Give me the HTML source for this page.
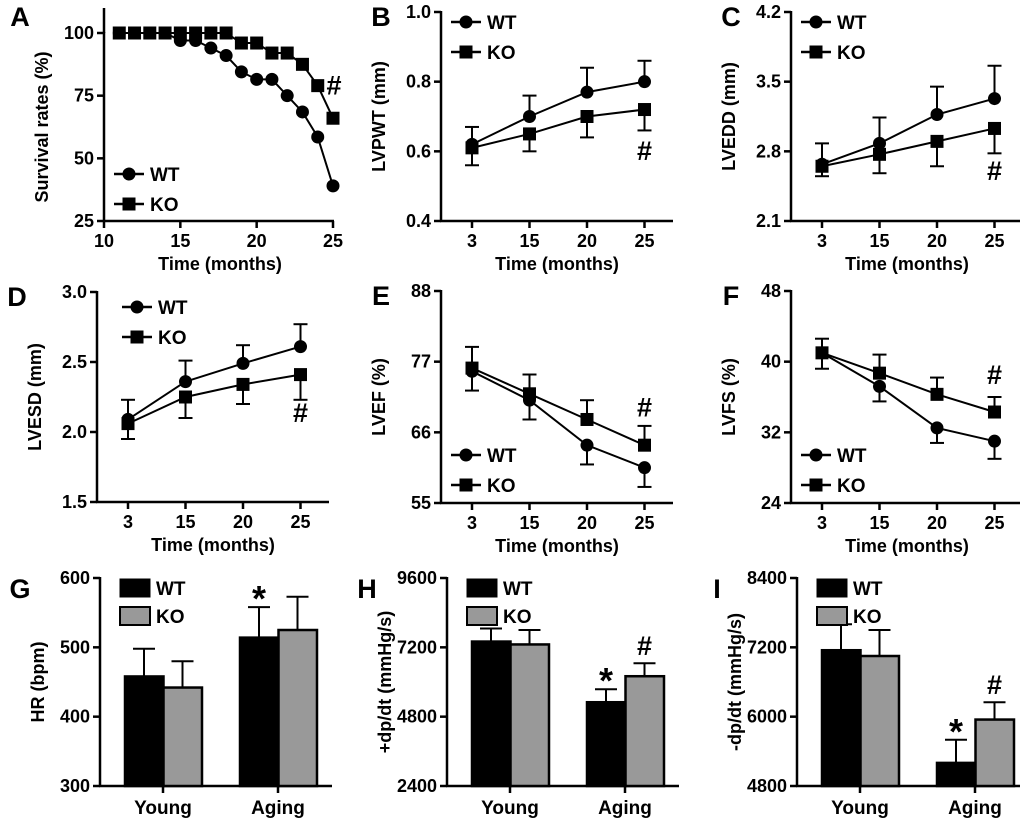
<!DOCTYPE html>
<html><head><meta charset="utf-8"><style>
body{margin:0;background:#fff}
svg{display:block;font-family:"Liberation Sans",Arial,sans-serif;font-weight:bold}
</style></head><body>
<svg id="fig" width="1020" height="821" viewBox="0 0 1020 821"></svg>
<script>
// ---- data ----
const survMonths=[11,12,13,14,15,16,17,18,19,20,21,22,23,24,25];
const survWT=[100,100,100,100,97,97,94,91,84.5,81.5,81.5,75,68.5,58.5,39];
const survKO=[100,100,100,100,100,100,100,100,96,96,92,92,87.5,79,66];
const timeCats=["3","15","20","25"];
const lvpwtWT=[0.62,0.70,0.77,0.80], lvpwtWTerr=[0.05,0.06,0.07,0.06];
const lvpwtKO=[0.61,0.65,0.70,0.72], lvpwtKOerr=[0.05,0.05,0.06,0.06];
const lveddWT=[2.67,2.88,3.17,3.33], lveddWTerr=[0.21,0.26,0.28,0.33];
const lveddKO=[2.65,2.77,2.90,3.03], lveddKOerr=[0.10,0.19,0.25,0.25];
const lvesdWT=[2.09,2.36,2.49,2.61], lvesdWTerr=[0.14,0.15,0.13,0.16];
const lvesdKO=[2.06,2.25,2.34,2.41], lvesdKOerr=[0.11,0.15,0.14,0.18];
const lvefWT=[75.5,71,64,60.5], lvefWTerr=[3,3,3,3];
const lvefKO=[76,72,68,64], lvefKOerr=[3.3,3,3,3];
const lvfsWT=[41,37.2,32.5,31], lvfsWTerr=[1.8,1.7,1.7,2];
const lvfsKO=[41,38.7,36.3,34.3], lvfsKOerr=[1.6,2.1,1.9,1.7];
const groupCats=["Young","Aging"];
const hrWT=[458,514], hrWTerr=[40,44], hrKO=[442,525], hrKOerr=[38,48];
const dpWT=[7400,5300], dpWTerr=[450,450], dpKO=[7300,6200], dpKOerr=[500,450];
const dnWT=[7150,5200], dnWTerr=[450,400], dnKO=[7050,5950], dnKOerr=[450,300];

const svg=document.getElementById('fig');
const NS="http://www.w3.org/2000/svg";
function el(tag,attrs,name,parent){const e=document.createElementNS(NS,tag);for(const k in attrs)e.setAttribute(k,attrs[k]);


(parent||svg).appendChild(e);return e;}
function txt(x,y,s,size,anchor,name,rot){const t=el('text',{x:x,y:y,'font-size':size,'text-anchor':anchor||'middle'},name);t.textContent=s;if(rot)t.setAttribute('transform','rotate(-90 '+x+' '+y+')');return t;}
function line(x1,y1,x2,y2,name,w){return el('line',{x1:x1,y1:y1,x2:x2,y2:y2,stroke:'#000','stroke-width':w||2.5},name);}
function marker(x,y,sq,name){if(sq)el('rect',{x:x-6.5,y:y-6.5,width:13,height:13,fill:'#000'},name);else el('circle',{cx:x,cy:y,r:6.5,fill:'#000'},name);}

function yAxis(ax,top,bot,ymin,ymax,ticks,title,fmt){
  const sy=v=>bot-(v-ymin)/(ymax-ymin)*(bot-top);
  line(ax,top-1,ax,bot+1,'y-axis-line');
  ticks.forEach(v=>{line(ax-7,sy(v),ax,sy(v),'y-tick');txt(ax-10,sy(v)+6,fmt(v),18,'end','y-tick-label');});
  txt(ax-56,(top+bot)/2,title,18,'middle','y-axis-title',true);
  return sy;
}
function legend(x,y,bars){
  if(bars){el('rect',{x:x,y:y,width:30,height:18,fill:'#000',stroke:'#000'},'legend-wt-swatch');
    el('rect',{x:x,y:y+28,width:30,height:18,fill:'#999',stroke:'#000','stroke-width':2},'legend-ko-swatch');
    txt(x+36,y+16,'WT',19,'start','legend-wt-label');txt(x+36,y+44,'KO',19,'start','legend-ko-label');return;}
  line(x,y,x+30,y,'legend-wt-line');marker(x+15,y,false,'legend-wt-marker');txt(x+36,y+7,'WT',19,'start','legend-wt-label');
  line(x,y+30,x+30,y+30,'legend-ko-line');marker(x+15,y+30,true,'legend-ko-marker');txt(x+36,y+37,'KO',19,'start','legend-ko-label');
}
function linePanel(p){
  const sy=yAxis(p.ax,p.top,p.bot,p.ymin,p.ymax,p.ticks,p.title,p.fmt);
  line(p.ax-1,p.bot,p.ax+232,p.bot,'x-axis-line');
  const sx=i=>p.ax+31+i*57.5;
  timeCats.forEach((c,i)=>{line(sx(i),p.bot,sx(i),p.bot+7,'x-tick');txt(sx(i),p.bot+26,c,18,'middle','x-tick-label');});
  txt(p.ax+116,p.bot+49,'Time (months)',18,'middle','x-axis-title');
  [[p.wt,p.wte,p.wtDir,false,'wt'],[p.ko,p.koe,p.koDir,true,'ko']].forEach(([vals,errs,dir,sq,n])=>{
    vals.forEach((v,i)=>{const e=sy(v+dir*errs[i]);line(sx(i),sy(v),sx(i),e,'error-bar-'+n,2);line(sx(i)-7,e,sx(i)+7,e,'error-cap-'+n,2);});
    el('polyline',{points:vals.map((v,i)=>sx(i)+','+sy(v)).join(' '),fill:'none',stroke:'#000','stroke-width':2},'series-line-'+n);
    vals.forEach((v,i)=>marker(sx(i),sy(v),sq,'point-'+n));
  });
  txt(sx(3),sy(p.hashY),'#',27,'middle','significance-mark');
  legend(p.ax+p.lx,p.ly,false);
  txt(p.ax-60-(p.lettOff||0),p.top+14,p.letter,27,'middle','panel-label-'+p.letter);
}
function barPanel(p){
  const sy=yAxis(p.ax,p.top,p.bot,p.ymin,p.ymax,p.ticks,p.title,p.fmt);
  line(p.ax-1,p.bot,p.ax+232,p.bot,'x-axis-line');
  [[p.wt,p.wte,'#000',0,'wt'],[p.ko,p.koe,'#999',1,'ko']].forEach(([vals,errs,col,k,n])=>{
    vals.forEach((v,i)=>{const x=p.ax+25+i*115+k*38.5;
      const e=sy(v+errs[i]);line(x+19,sy(v),x+19,e,'error-bar-'+n,2);line(x+8,e,x+30,e,'error-cap-'+n,2);
      el('rect',{x:x,y:sy(v),width:38.5,height:p.bot-sy(v),fill:col,stroke:'#000','stroke-width':2.5},'bar-'+n+'-'+groupCats[i].toLowerCase());});
  });
  groupCats.forEach((c,i)=>{const x=p.ax+63+i*115;line(x,p.bot,x,p.bot+7,'x-tick');txt(x,p.bot+28,c,19,'middle','x-tick-label');});
  p.marks.forEach(m=>{const i=m[1],k=m[2];const x=p.ax+25+i*115+k*38.5+19;const vals=k?p.ko:p.wt,errs=k?p.koe:p.wte;
    txt(x,sy(vals[i]+errs[i])-8+(m[0]=='*'?12:0),m[0],m[0]=='*'?36:27,'middle','significance-mark');});
  legend(p.ax+20,p.top+1,true);
  txt(p.ax-80,p.top+20,p.letter,27,'middle','panel-label-'+p.letter);
}
// Panel A
(function(){
  const ax=104,top=33,bot=221,sy=yAxis(ax,top,bot,25,100,[25,50,75,100],'Survival rates (%)',v=>v);
  line(ax,8,ax,top,'y-axis-line');
  const sx=m=>ax+(m-10)/15*229;
  line(ax-1,bot,sx(25)+1,bot,'x-axis-line');
  [10,15,20,25].forEach(m=>{line(sx(m),bot,sx(m),bot+7,'x-tick');txt(sx(m),bot+26,m,18,'middle','x-tick-label');});
  txt(ax+116,bot+49,'Time (months)',18,'middle','x-axis-title');
  [[survKO,true,'ko'],[survWT,false,'wt']].forEach(([vals,sq,n])=>{
    el('polyline',{points:vals.map((v,i)=>sx(survMonths[i])+','+sy(v)).join(' '),fill:'none',stroke:'#000','stroke-width':2},'series-line-'+n);
    vals.forEach((v,i)=>marker(sx(survMonths[i]),sy(v),sq,'point-'+n));});
  txt(sx(25)+1,sy(survKO[13])+9,'#',27,'middle','significance-mark');
  legend(ax+10,174,false);
  txt(20,26,'A',27,'middle','panel-label-A');
})();
linePanel({letter:'B',ax:441,top:12,bot:221,ymin:0.4,ymax:1.0,ticks:[0.4,0.6,0.8,1.0],fmt:v=>v.toFixed(1),title:'LVPWT (mm)',
  wt:lvpwtWT,wte:lvpwtWTerr,wtDir:1,ko:lvpwtKO,koe:lvpwtKOerr,koDir:-1,hashY:0.575,lx:10,ly:22});
linePanel({letter:'C',ax:791,top:12,bot:221,ymin:2.1,ymax:4.2,ticks:[2.1,2.8,3.5,4.2],fmt:v=>v.toFixed(1),title:'LVEDD (mm)',
  wt:lveddWT,wte:lveddWTerr,wtDir:1,ko:lveddKO,koe:lveddKOerr,koDir:-1,hashY:2.51,lx:10,ly:22});
linePanel({letter:'D',ax:97,top:292,bot:502,ymin:1.5,ymax:3.0,ticks:[1.5,2.0,2.5,3.0],fmt:v=>v.toFixed(1),title:'LVESD (mm)',
  wt:lvesdWT,wte:lvesdWTerr,wtDir:1,ko:lvesdKO,koe:lvesdKOerr,koDir:-1,hashY:2.07,lx:25,ly:307,lettOff:20});
linePanel({letter:'E',ax:441,top:291,bot:503,ymin:55,ymax:88,ticks:[55,66,77,88],fmt:v=>v,title:'LVEF (%)',
  wt:lvefWT,wte:lvefWTerr,wtDir:-1,ko:lvefKO,koe:lvefKOerr,koDir:1,hashY:68.5,lx:10,ly:455});
linePanel({letter:'F',ax:791,top:291,bot:503,ymin:24,ymax:48,ticks:[24,32,40,48],fmt:v=>v,title:'LVFS (%)',
  wt:lvfsWT,wte:lvfsWTerr,wtDir:-1,ko:lvfsKO,koe:lvfsKOerr,koDir:1,hashY:37.5,lx:10,ly:455});
barPanel({letter:'G',ax:100,top:578,bot:786,ymin:300,ymax:600,ticks:[300,400,500,600],fmt:v=>v,title:'HR (bpm)',
  wt:hrWT,wte:hrWTerr,ko:hrKO,koe:hrKOerr,marks:[['*',1,0]]});
barPanel({letter:'H',ax:447,top:578,bot:786,ymin:2400,ymax:9600,ticks:[2400,4800,7200,9600],fmt:v=>v,title:'+dp/dt (mmHg/s)',
  wt:dpWT,wte:dpWTerr,ko:dpKO,koe:dpKOerr,marks:[['*',1,0],['#',1,1]]});
barPanel({letter:'I',ax:797,top:578,bot:786,ymin:4800,ymax:8400,ticks:[4800,6000,7200,8400],fmt:v=>v,title:'-dp/dt (mmHg/s)',
  wt:dnWT,wte:dnWTerr,ko:dnKO,koe:dnKOerr,marks:[['*',1,0],['#',1,1]]});
</script>
</body></html>
